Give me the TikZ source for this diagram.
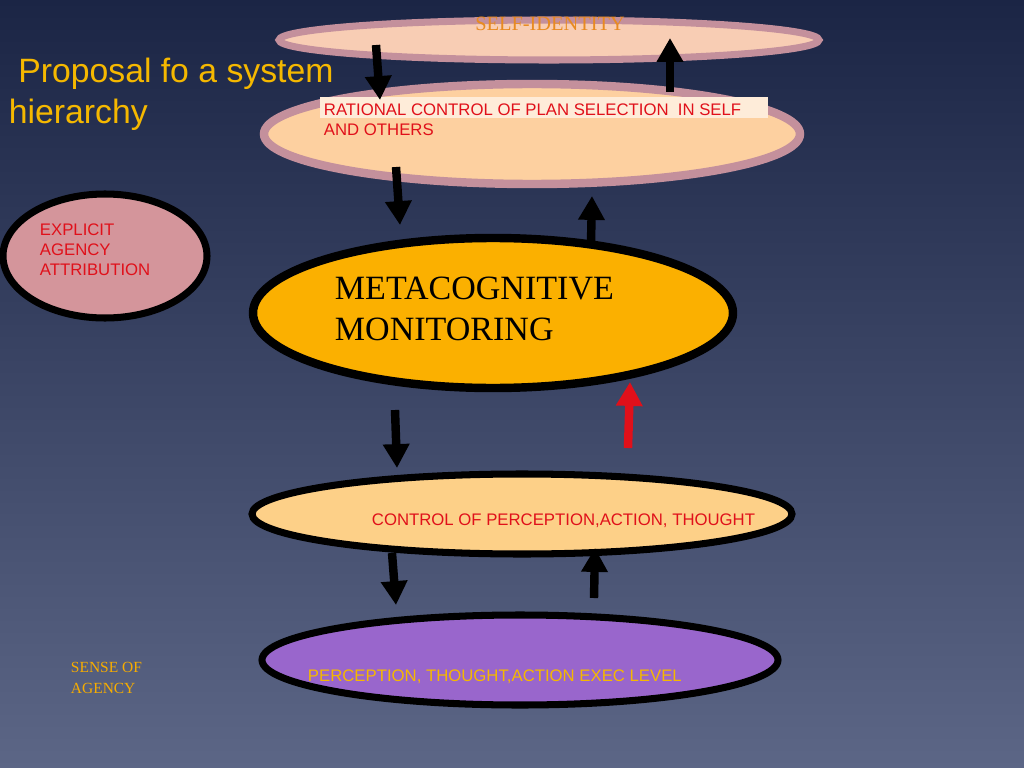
\documentclass[tikz,border=0pt]{standalone}
\usepackage{fontspec}
\setmainfont{Liberation Serif}
\setsansfont{Liberation Sans}
\usetikzlibrary{arrows.meta}
\definecolor{bgtop}{HTML}{1B2545}
\definecolor{bgbot}{HTML}{5C6686}
\definecolor{mauve}{HTML}{C4909C}
\definecolor{peach}{HTML}{FDD0A0}
\definecolor{lightpeach}{HTML}{F8CDB4}
\definecolor{rosy}{HTML}{D4959B}
\definecolor{meta}{HTML}{FBB000}
\definecolor{ctrl}{HTML}{FDD088}
\definecolor{purp}{HTML}{9966CC}
\definecolor{txtred}{HTML}{E0101A}
\definecolor{gold}{HTML}{F5B800}
\definecolor{lbl}{HTML}{E88A20}
\tikzset{
  updown/.style={line width=6pt, -{Triangle[width=18pt,length=17pt]}},
  small/.style={font=\sffamily\fontsize{11.9}{14}\selectfont, align=left, anchor=north west}
}
\begin{document}
\begin{tikzpicture}[x=0.025cm,y=-0.025cm]
\shade[top color=bgtop,bottom color=bgbot] (0,0) rectangle (1024,768);
\useasboundingbox (0,0) rectangle (1024,768);

% levels
\draw[mauve,line width=5pt,fill=lightpeach] (549,40) ellipse (270 and 20);
\draw[mauve,line width=6pt,fill=peach] (532,134) ellipse (268 and 50);
\draw[black,line width=5pt,fill=rosy] (105,256) ellipse (102 and 62);
\draw[black,line width=6pt,fill=meta] (493,313) ellipse (240 and 75);
\draw[black,line width=5pt,fill=ctrl] (522,514) ellipse (270 and 40);
\draw[black,line width=5pt,fill=purp] (520,660) ellipse (258 and 45);

% texts
\node[anchor=north,text=lbl,font=\fontsize{14.5}{16}\selectfont] (selfid) at (550,12) {SELF-IDENTITY};
\fill[peach!40!white] (320,97) rectangle (768,118);
\node[small,text=txtred] (rational) at (319,99) {RATIONAL CONTROL OF PLAN SELECTION\ \ IN SELF\\AND OTHERS};
\node[small,text=txtred] (explicit) at (35,219) {EXPLICIT\\AGENCY\\ATTRIBUTION};
\node[anchor=north west,align=left,font=\fontsize{24.2}{29}\selectfont] (meta) at (330,272) {METACOGNITIVE\\MONITORING};
\node[small,text=txtred,anchor=west] (control) at (367,521) {CONTROL OF PERCEPTION,ACTION, THOUGHT};
\node[small,text=gold,anchor=west] (exec) at (303,677) {PERCEPTION, THOUGHT,ACTION EXEC LEVEL};
\node[anchor=north west,align=left,text=gold,font=\sffamily\fontsize{24}{29}\selectfont] (title) at (4,53) {\ Proposal fo a system\\hierarchy};
\node[anchor=north west,align=left,text=gold!80!orange,font=\fontsize{11}{15}\selectfont] (sense) at (66,657) {SENSE OF\\AGENCY};

% arrows
\foreach \xa/\ya/\xb/\yb in {376/45/380/100, 396/167/400/225, 395/410/397/468, 392/553/396/605,
  670/92/670/38, 591/242/592/196, 594/598/595/548}
  {\draw[updown,black] (\xa,\ya) -- (\xb,\yb);}
\draw[updown,txtred] (628,448) -- (630,382);
\end{tikzpicture}
\end{document}
